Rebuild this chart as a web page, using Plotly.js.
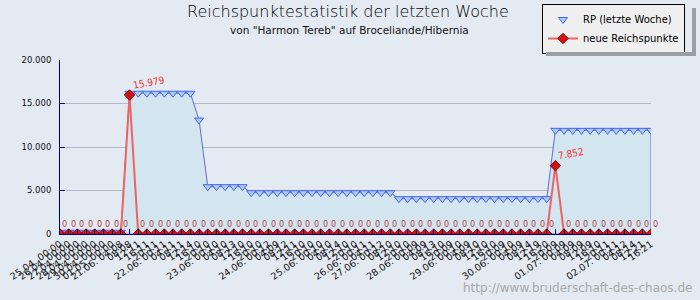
<!DOCTYPE html>
<html>
<head>
<meta charset="utf-8">
<script src="https://cdn.plot.ly/plotly-3.0.1.min.js"></script>
<style>
html,body{margin:0;padding:0;background:#e4eaf2;}
#chart{width:700px;height:300px;}
</style>
</head>
<body>
<div id="chart"></div>
<script>
// ---- data ----
const labels = [
  "25.04. 00:00","26.04. 00:00","27.04. 00:00","28.04. 00:00","29.04. 00:00","30.04. 00:00","01.05. 00:00",
  "21.06. 04:08","08:08","12:11","16:11","20:11",
  "22.06. 00:11","04:11","08:11","12:14","16:10","20:10",
  "23.06. 00:10","04:10","08:13","12:10","16:10","20:10",
  "24.06. 00:12","04:09","08:12","12:11","16:10","20:10",
  "25.06. 00:10","04:10","08:14","12:10","20:10",
  "26.06. 00:11","04:11",
  "27.06. 00:12","08:10","12:10","20:10",
  "28.06. 00:09","04:09","08:13","16:10","20:09",
  "29.06. 00:10","04:09","08:10","12:10","16:10","20:09",
  "30.06. 00:10","04:09","08:14","12:19","16:20","20:09",
  "01.07. 00:09","04:09","08:09","12:09","16:10","20:11",
  "02.07. 00:11","04:12","08:14","12:21","16:21"
];
const rpWeek = [
  200,200,200,200,200,200,200,200,
  16179,16179,16179,16179,16179,16179,16179,16179,
  13100,
  5440,5440,5440,5440,5440,
  4750,4750,4750,4750,4750,4750,4750,4750,4750,4750,4750,4750,4750,4750,4750,4750,4750,
  4060,4060,4060,4060,4060,4060,4060,4060,4060,4060,4060,4060,4060,4060,4060,4060,4060,4060,
  11912,11912,11912,11912,11912,11912,11912,11912,11912,11912,11912,11912
];
const newRP = [
  0,0,0,0,0,0,0,0,
  15979,0,0,0,0,0,0,0,0,0,0,0,0,0,0,0,0,0,0,0,0,0,0,0,0,0,0,0,0,0,0,0,0,0,0,0,0,0,0,0,0,0,0,0,0,0,0,0,0,
  7852,0,0,0,0,0,0,0,0,0,0,0
];
const yTicks = [0,5000,10000,15000,20000];

// ---- helpers ----
const idx = labels.map((_, i) => i);
const L = 60, R = 49, T = 60, B = 66, W = 700, H = 300;
const pw = W - L - R, ph = H - T - B;
const pxX = p => (p - L) / pw;
const pxY = p => (H - B - p) / ph;
const fmt = v => String(v).replace(/\B(?=(\d{3})+(?!\d))/g, '.');

// closed polygon for the filled area (outline incl. right edge)
const polyX = idx.concat([idx[idx.length - 1], idx[0]]);
const polyY = rpWeek.concat([0, 0]);

const traces = [
  {
    x: polyX, y: polyY, type: 'scatter', mode: 'lines',
    fill: 'toself', fillcolor: '#d3e5ef',
    line: {color: '#5b6bd8', width: 1},
    showlegend: false, hoverinfo: 'skip'
  },
  {
    x: idx, y: rpWeek, type: 'scatter', mode: 'markers',
    name: 'RP (letzte Woche)',
    marker: {symbol: 'triangle-down', size: 8, color: '#a9cdf2', line: {color: '#4a62ee', width: 1}}
  },
  {
    x: idx, y: newRP, type: 'scatter', mode: 'lines+markers',
    name: 'neue Reichspunkte',
    line: {color: '#ec6464', width: 2},
    marker: {symbol: 'diamond', size: 8, color: '#cc1414', line: {color: '#a00000', width: 1}}
  }
];

const annotations = [];
// legend drop shadow: right strip and bottom strip
annotations.push({
  xref: 'paper', yref: 'paper', x: pxX(692), y: pxY(8), xanchor: 'left', yanchor: 'top',
  showarrow: false, text: ' ', width: 4, height: 48, bgcolor: '#9c9ea6',
  borderpad: 0, borderwidth: 0, font: {size: 1}
});
annotations.push({
  xref: 'paper', yref: 'paper', x: pxX(546), y: pxY(52), xanchor: 'left', yanchor: 'top',
  showarrow: false, text: ' ', width: 150, height: 4, bgcolor: '#9c9ea6',
  borderpad: 0, borderwidth: 0, font: {size: 1}
});

newRP.forEach((v, i) => annotations.push({
  x: i, y: v, xref: 'x', yref: 'y', showarrow: false,
  text: fmt(v),
  xanchor: 'left', yanchor: 'bottom',
  xshift: 0, yshift: v === 0 ? 3 : 2,
  textangle: v === 0 ? 0 : -10,
  font: {family: 'DejaVu Sans Condensed', size: v === 0 ? 9 : 10,
         color: v === 0 ? '#b84444' : '#f03434'}
}));

annotations.push({
  xref: 'paper', yref: 'paper', x: pxX(348), y: pxY(11), xanchor: 'center', yanchor: 'middle',
  showarrow: false, text: 'Reichspunktestatistik der letzten Woche',
  font: {family: 'DejaVu Sans ExtraLight, DejaVu Sans', weight: 200, size: 16, color: '#000000'}
});
annotations.push({
  xref: 'paper', yref: 'paper', x: pxX(349), y: pxY(30), xanchor: 'center', yanchor: 'middle',
  showarrow: false, text: 'von "Harmon Tereb" auf Broceliande/Hibernia',
  font: {family: 'DejaVu Sans', size: 10.5, color: '#111111'}
});
annotations.push({
  xref: 'paper', yref: 'paper', x: pxX(694), y: pxY(288), xanchor: 'right', yanchor: 'middle',
  showarrow: false, text: 'http://www.bruderschaft-des-chaos.de',
  font: {family: 'DejaVu Sans', size: 12, color: '#a8a8a8'}
});

const layout = {
  width: W, height: H,
  margin: {l: L, r: R, t: T, b: B, pad: 0, autoexpand: false},
  paper_bgcolor: '#e4eaf2', plot_bgcolor: '#e4eaf2',
  separators: ',.',
  showlegend: true,
  legend: {
    xref: 'container', yref: 'container', x: 542 / W, y: 1 - 4 / H,
    xanchor: 'left', yanchor: 'top',
    bgcolor: '#efefef', bordercolor: '#000000', borderwidth: 1,
    font: {family: 'DejaVu Sans', size: 10, color: '#000'},
    tracegroupgap: 0
  },
  xaxis: {
    range: [0, idx.length - 1], tickmode: 'array', tickvals: idx, ticktext: labels,
    tickangle: -35, ticks: 'inside', ticklen: 5, tickcolor: '#000080',
    showline: true, linecolor: '#000080', linewidth: 1, showgrid: false, zeroline: false,
    automargin: false,
    tickfont: {family: 'DejaVu Sans', size: 9.5, color: '#111'}
  },
  yaxis: {
    range: [0, 20000], tickmode: 'array', tickvals: yTicks, tickformat: ',d',
    ticks: 'inside', ticklen: 5, tickcolor: '#000080',
    showline: true, linecolor: '#000080', linewidth: 1,
    showgrid: true, gridcolor: '#b5b8c4', gridwidth: 1, zeroline: false,
    ticklabelstandoff: 6, automargin: false,
    tickfont: {family: 'DejaVu Sans', size: 8.5, color: '#111'}
  },
  annotations: annotations
};

Plotly.newPlot('chart', traces, layout, {staticPlot: true, displayModeBar: false});
</script>
</body>
</html>
